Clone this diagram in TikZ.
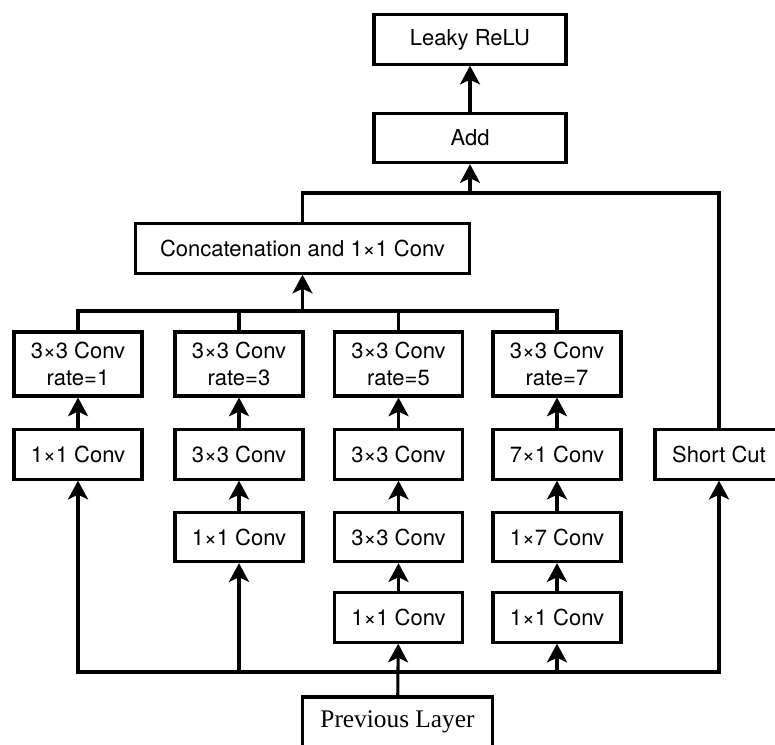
\documentclass[tikz,border=0pt]{standalone}
\usepackage{fontspec}
\setmainfont{TeX Gyre Heros}
\newfontfamily\PrevFont{Liberation Serif}
\usetikzlibrary{arrows.meta}
\tikzset{
  Blk/.style={draw,line width=2.3pt,minimum width=96pt,minimum height=37pt,inner sep=0pt,
    align=center,font=\fontsize{16.5}{20}\selectfont},
  Rate/.style={Blk,minimum height=48pt},
  Arr/.style={line width=2.3pt,-{Stealth[length=14pt,width=15pt,inset=3.5pt]}},
  Wire/.style={line width=2.3pt}
}

\begin{document}
\begin{tikzpicture}[x=0.75pt,y=-0.75pt]
\useasboundingbox (0,0) rectangle (775,745);
\clip (0,0) rectangle (775,745);
% top of the block
\node[Blk,minimum width=144pt] (relu) at (470,39.5) {Leaky ReLU};
\node[Blk,minimum width=144pt] (add) at (470,138) {Add};
\node[Blk,minimum width=251pt] (concat) at (302.5,248.5) {Concatenation and 1\texttimes1 Conv};
% dilated branches
\foreach \n/\x/\r in {1/78/1,2/239/3,3/398.5/5,4/557/7} {
  \node[Rate] (c\n a) at (\x,364) {3\texttimes3 Conv\\rate=\r};
}
\node[Blk] (c1b) at (78,454.5) {1\texttimes1 Conv};
\node[Blk] (c2b) at (239,454.5) {3\texttimes3 Conv};
\node[Blk] (c2c) at (239,537) {1\texttimes1 Conv};
\node[Blk] (c3b) at (398.5,454.5) {3\texttimes3 Conv};
\node[Blk] (c3c) at (398.5,537) {3\texttimes3 Conv};
\node[Blk] (c3d) at (398.5,617.5) {1\texttimes1 Conv};
\node[Blk] (c4b) at (557,454.5) {7\texttimes1 Conv};
\node[Blk] (c4c) at (557,537) {1\texttimes7 Conv};
\node[Blk] (c4d) at (557,617.5) {1\texttimes1 Conv};
\node[Blk] (sc) at (719,454.5) {Short Cut};
\node[Blk,minimum width=142pt,minimum height=37.5pt,font=\PrevFont\fontsize{19}{22}\selectfont] (prev) at (397.5,722) {Previous Layer};
% bus lines
\coordinate (topB) at (0,193);
\coordinate (midB) at (0,311);
\coordinate (botB) at (0,672);
\draw[Arr] (add) -- (relu);
\draw[Wire] (concat.north) -- (concat.north |- topB) -| (sc.north);
\draw[Arr] (add.south |- topB) -- (add);
\draw[Wire] (c1a.north) -- (c1a.north |- midB) -| (c4a.north);
\draw[Wire] (c2a.north) -- (c2a.north |- midB);
\draw[Wire] (c3a.north) -- (c3a.north |- midB);
\draw[Arr] (concat.south |- midB) -- (concat);
% inside the branches
\draw[Arr] (c1b) -- (c1a);
\draw[Arr] (c2c) -- (c2b);
\draw[Arr] (c2b) -- (c2a);
\draw[Arr] (c3d) -- (c3c);
\draw[Arr] (c3c) -- (c3b);
\draw[Arr] (c3b) -- (c3a);
\draw[Arr] (c4d) -- (c4c);
\draw[Arr] (c4c) -- (c4b);
\draw[Arr] (c4b) -- (c4a);
% from the previous layer
\draw[Arr] (prev) -- (c3d);
\draw[Arr] (c3d.south |- botB) -| (c1b.south);
\draw[Arr] (c3d.south |- botB) -| (sc.south);
\draw[Arr] (c2c.south |- botB) -- (c2c);
\draw[Arr] (c4d.south |- botB) -- (c4d);
\end{tikzpicture}
\end{document}
